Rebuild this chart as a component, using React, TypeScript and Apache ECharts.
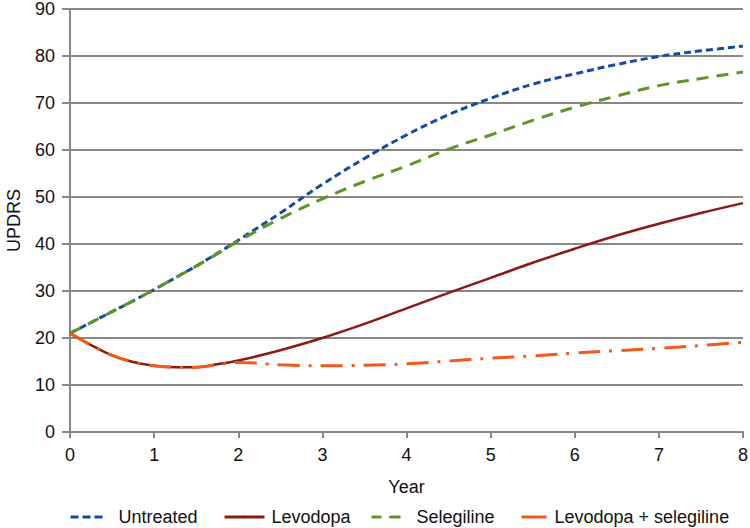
import React, { useEffect, useRef } from "react";
import * as echarts from "echarts";

const years = [0, 0.25, 0.5, 0.75, 1, 1.25, 1.5, 1.75, 2, 2.5, 3, 3.5, 4, 4.5, 5, 5.5, 6, 6.5, 7, 7.5, 8];

const untreated = [21, 23.3, 25.6, 27.9, 30.3, 32.8, 35.3, 38.0, 40.8, 46.6, 52.7, 58.2, 63.2, 67.5, 71.0, 74.0, 76.2, 78.2, 79.9, 81.1, 82.1];
const selegiline = [21, 23.3, 25.6, 27.9, 30.3, 32.8, 35.3, 37.9, 40.6, 45.4, 49.6, 53.3, 56.6, 60.2, 63.2, 66.3, 69.1, 71.5, 73.7, 75.2, 76.6];
const levodopa = [21, 18.5, 16.3, 14.9, 14.1, 13.8, 13.8, 14.4, 15.2, 17.4, 20.0, 23.0, 26.3, 29.6, 32.8, 36.0, 39.0, 41.8, 44.3, 46.6, 48.7];
const levodopaSelegiline = [21, 18.5, 16.3, 14.9, 14.1, 13.8, 13.8, 14.3, 14.8, 14.3, 14.1, 14.2, 14.5, 15.1, 15.7, 16.2, 16.8, 17.3, 17.8, 18.4, 19.1];

const seriesNames = ["Untreated", "Levodopa", "Selegiline", "Levodopa + selegiline"];
const yTicks = [0, 10, 20, 30, 40, 50, 60, 70, 80, 90];

const FONT = "'Liberation Sans', Arial, Helvetica, sans-serif";
const TEXT = "#111";

const colors = ["#154a9e", "#8c1a14", "#5e9428", "#f05a1a"];

function pairs(vals: number[]) {
  return years.map((y, i) => [y, vals[i]]);
}

export default function App() {
  const ref = useRef<HTMLDivElement>(null);
  useEffect(() => {
    if (!ref.current) return;
    const chart = echarts.init(ref.current, undefined, { renderer: "svg" });
    const mk = (name: string, vals: number[], color: string, type: any, width: number, z: number) => ({
      name,
      type: "line",
      data: pairs(vals),
      smooth: 0.4,
      symbol: "none",
      showSymbol: false,
      z,
      lineStyle: { color, width, type },
      itemStyle: { color },
    });
    const legendItem = (name: string, left: number, width: number, color: string, type: any, pad: number) => ({
      left,
      top: 508,
      itemWidth: width,
      itemHeight: 3,
      padding: 0,
      textStyle: { fontFamily: FONT, fontSize: 18, color: TEXT, padding: [0, 0, 0, pad] },
      data: [{ name, lineStyle: { color, width: 3, type }, itemStyle: { color } }],
    });
    chart.setOption({
      animation: false,
      backgroundColor: "#ffffff",
      grid: { left: 70, right: 7, top: 9, bottom: 96, containLabel: false, outerBoundsMode: "none" },
      legend: [
        legendItem(seriesNames[0], 69, 36, colors[0], [8, 4], 7),
        legendItem(seriesNames[1], 223, 40, colors[1], "solid", 2),
        legendItem(seriesNames[2], 370, 37, colors[2], [10, 9], 3),
        legendItem(seriesNames[3], 520, 25, colors[3], "solid", 3),
      ],
      xAxis: {
        type: "value",
        min: 0,
        max: 8,
        interval: 1,
        name: "Year",
        nameLocation: "middle",
        nameGap: 46,
        nameTextStyle: { fontFamily: FONT, fontSize: 18, color: TEXT },
        axisLine: { show: true, onZero: false, lineStyle: { color: "#888", width: 2 } },
        axisTick: { show: true, length: 6, lineStyle: { color: "#888", width: 2 } },
        axisLabel: { fontFamily: FONT, fontSize: 18, color: TEXT, margin: 14 },
        splitLine: { show: false },
      },
      yAxis: {
        type: "value",
        min: 0,
        max: 90,
        interval: 10,
        name: "UPDRS",
        nameLocation: "middle",
        nameGap: 47,
        nameRotate: 90,
        nameTextStyle: { fontFamily: FONT, fontSize: 18, color: TEXT },
        axisLine: { show: true, lineStyle: { color: "#888", width: 2 } },
        axisTick: { show: true, length: 8, lineStyle: { color: "#888", width: 2 } },
        axisLabel: {
          fontFamily: FONT,
          fontSize: 18,
          color: TEXT,
          margin: 15,
          formatter: (v: number) => (yTicks.includes(v) ? String(v) : ""),
        },
        splitLine: { show: true, lineStyle: { color: "#888", width: 2 } },
      },
      series: [
        mk(seriesNames[0], untreated, colors[0], [7, 4], 3, 3),
        mk(seriesNames[1], levodopa, colors[1], "solid", 2.5, 2),
        mk(seriesNames[2], selegiline, colors[2], [12, 8], 3, 4),
        mk(seriesNames[3], levodopaSelegiline, colors[3], [22, 9, 3, 9], 3, 5),
      ],
    });
    return () => chart.dispose();
  }, []);
  return (
    <div
      ref={ref}
      style={{ position: "fixed", left: 0, top: 0, width: 750, height: 528 }}
    />
  );
}
